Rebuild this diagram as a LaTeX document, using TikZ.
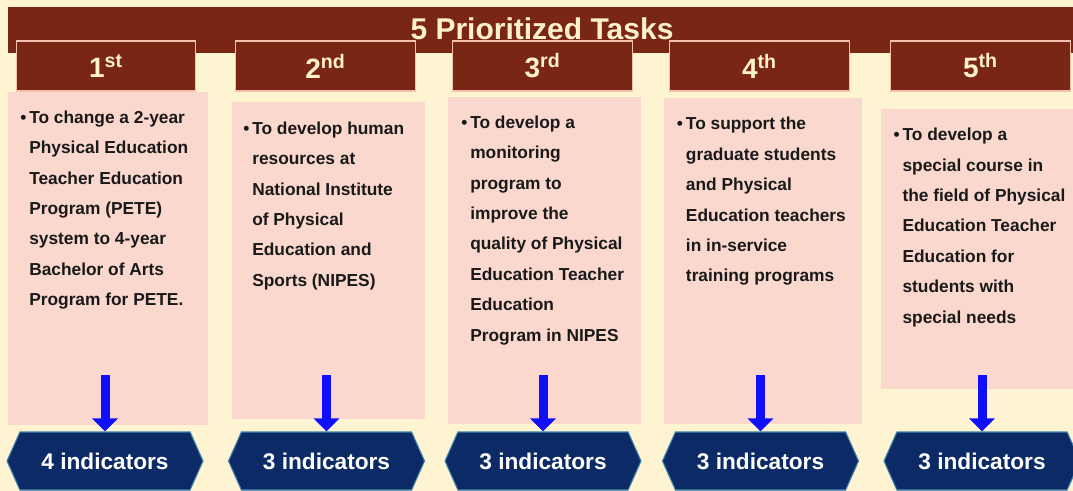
\documentclass[tikz,border=0pt]{standalone}
\usepackage{fontspec}
\setmainfont{Liberation Sans}
\usetikzlibrary{arrows.meta,positioning,fit,shapes.symbols}
\definecolor{bgcream}{RGB}{255,244,209}
\definecolor{taskbrown}{RGB}{122,38,20}
\definecolor{rankedge}{RGB}{242,192,172}
\definecolor{titlecream}{RGB}{255,241,204}
\definecolor{taskpink}{RGB}{250,216,206}
\definecolor{taskink}{RGB}{25,25,25}
\definecolor{indnavy}{RGB}{12,43,102}
\definecolor{indedge}{RGB}{60,130,170}
\definecolor{arrowblue}{RGB}{15,15,250}

\newcommand{\bul}{\makebox[6.75pt][l]{\textbullet}}
\newcommand{\tasklines}[1]{\begin{tabular}[t]{@{}l@{}l@{}}#1\end{tabular}}

\begin{document}
\begin{tikzpicture}[x=0.75pt, y=-0.75pt,
  banner/.style={fill=taskbrown, inner sep=0pt},
  rankbox/.style={fill=taskbrown, draw=rankedge, line width=0.9pt, inner sep=0pt,
    minimum width=134.5pt, minimum height=37.5pt,
    text=titlecream, font=\bfseries\fontsize{21}{25}\selectfont},
  taskbox/.style={fill=taskpink, inner sep=0pt},
  tasktext/.style={anchor=base west, inner sep=0pt, text=taskink,
    font=\bfseries\fontsize{13}{22.8}\selectfont},
  indbox/.style={signal, signal to=east and west, signal pointer angle=132,
    fill=indnavy, draw=indedge, line width=0.8pt, inner sep=0pt, text=white,
    font=\bfseries\fontsize{17}{20}\selectfont,
    minimum width=147pt, minimum height=43.5pt},
  downarrow/.style={arrowblue, line width=6.75pt, -{Triangle[length=9.75pt, width=18.75pt]}}
]
\useasboundingbox (0,0) rectangle (1073,491);
\fill[bgcream] (0,0) rectangle (1073,491);

% top banner and title
\node[banner, fit={(8,7) (1085,53)}] (banner) {};
\node[font=\bfseries\fontsize{22.5}{27}\selectfont, text=titlecream, anchor=base, inner sep=0pt]
  (title) at (542,40) {5 Prioritized Tasks};

% rank headers
\foreach \i/\x/\ord in {1/106/st, 2/325.5/nd, 3/542.5/rd, 4/759.5/th, 5/980.5/th}
  \node[rankbox] (rank\i) at (\x,66) {\i\textsuperscript{\ord}};

% task boxes
\node[taskbox, fit={(8,92) (208,425)}] (task1) {};
\node[taskbox, fit={(232,102) (425,419)}] (task2) {};
\node[taskbox, fit={(448,97) (641,424)}] (task3) {};
\node[taskbox, fit={(664,98) (862,424)}] (task4) {};
\node[taskbox, fit={(881,109) (1073,389)}] (task5) {};

\node[tasktext] (text1) at (20,123.3) {\tasklines{%
  \bul & To change a 2-year\\ & Physical Education\\ & Teacher Education\\
  & Program (PETE)\\ & system to 4-year\\ & Bachelor of Arts\\ & Program for PETE.}};
\node[tasktext] (text2) at (243,134.3) {\tasklines{%
  \bul & To develop human\\ & resources at\\ & National Institute\\
  & of Physical\\ & Education and\\ & Sports (NIPES)}};
\node[tasktext] (text3) at (461,128.3) {\tasklines{%
  \bul & To develop a\\ & monitoring\\ & program to\\ & improve the\\
  & quality of Physical\\ & Education Teacher\\ & Education\\ & Program in NIPES}};
\node[tasktext] (text4) at (676.7,130) {\tasklines{%
  \bul & To support the\\ & graduate students\\ & and Physical\\
  & Education teachers\\ & in in-service\\ & training programs}};
\node[tasktext] (text5) at (893.3,140.7) {\tasklines{%
  \bul & To develop a\\ & special course in\\ & the field of Physical\\
  & Education Teacher\\ & Education for\\ & students with\\ & special needs}};

% indicators
\foreach \i/\x/\n in {1/105/4, 2/326.5/3, 3/543/3, 4/760.5/3, 5/982/3}
  \node[indbox] (ind\i) at (\x,461) {\n\ indicators};

\foreach \i in {1,...,5}
  \draw[downarrow] ([yshift=42pt]ind\i.north) -- (ind\i.north);
\end{tikzpicture}
\end{document}
